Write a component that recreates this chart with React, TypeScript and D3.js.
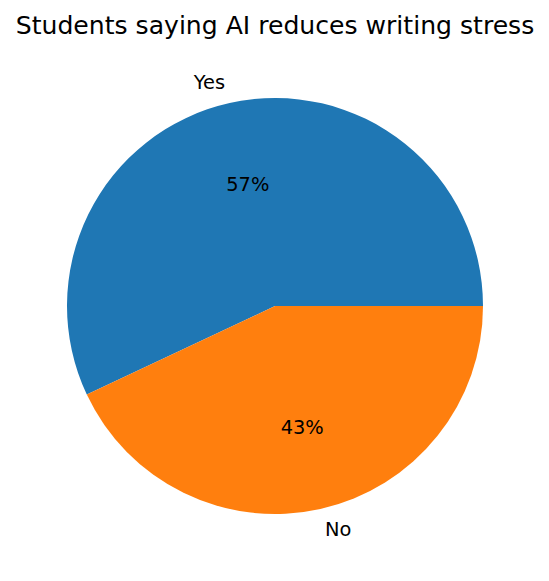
import * as d3 from "d3";

const labels = ["Yes", "No"];
const values = [57, 43];
const colors = ["#1f77b4", "#ff7f0e"];
const title = "Students saying AI reduces writing stress";

const W = 549;
const H = 581;
const cx = 275;
const cy = 306;
const r = 208;
const font = "DejaVu Sans, sans-serif";

export default function App() {
    const total = d3.sum(values);
    // matplotlib: start at 3 o'clock, counter-clockwise
    const angle = d3.scaleLinear().domain([0, total]).range([0, 2 * Math.PI]);
    let acc = 0;
    const slices = values.map((v, i) => {
        const a0 = angle(acc);
        acc += v;
        const a1 = angle(acc);
        return { i, v, a0, a1 };
    });
    // convert math angle (ccw from east) to d3 angle (cw from north)
    const toD3 = (a) => Math.PI / 2 - a;
    const arc = d3.arc().innerRadius(0).outerRadius(r);

    return (
        <svg width={W} height={H} style={{ position: "absolute", left: 0, top: 0 }}>
            <rect width={W} height={H} fill="white" />
            <text
                x={cx}
                y={34}
                textAnchor="middle"
                fontFamily={font}
                fontSize={25.1}
                fill="black"
            >
                {title}
            </text>
            <g transform={`translate(${cx},${cy})`}>
                {slices.map((s) => (
                    <path
                        key={`slice-${s.i}`}
                        d={arc({ startAngle: toD3(s.a1), endAngle: toD3(s.a0) })}
                        fill={colors[s.i]}
                    />
                ))}
                {slices.map((s) => {
                    const mid = (s.a0 + s.a1) / 2;
                    const lx = 1.1 * r * Math.cos(mid);
                    const ly = -1.1 * r * Math.sin(mid);
                    const px = 0.6 * r * Math.cos(mid);
                    const py = -0.6 * r * Math.sin(mid);
                    return (
                        <g key={`lab-${s.i}`}>
                            <text
                                x={lx}
                                y={ly}
                                textAnchor={lx < 0 ? "end" : "start"}
                                dominantBaseline="central"
                                fontFamily={font}
                                fontSize={19.4}
                                fill="black"
                            >
                                {labels[s.i]}
                            </text>
                            <text
                                x={px}
                                y={py}
                                textAnchor="middle"
                                dominantBaseline="central"
                                fontFamily={font}
                                fontSize={19.4}
                                fill="black"
                            >
                                {`${Math.round((s.v / total) * 100)}%`}
                            </text>
                        </g>
                    );
                })}
            </g>
        </svg>
    );
}
